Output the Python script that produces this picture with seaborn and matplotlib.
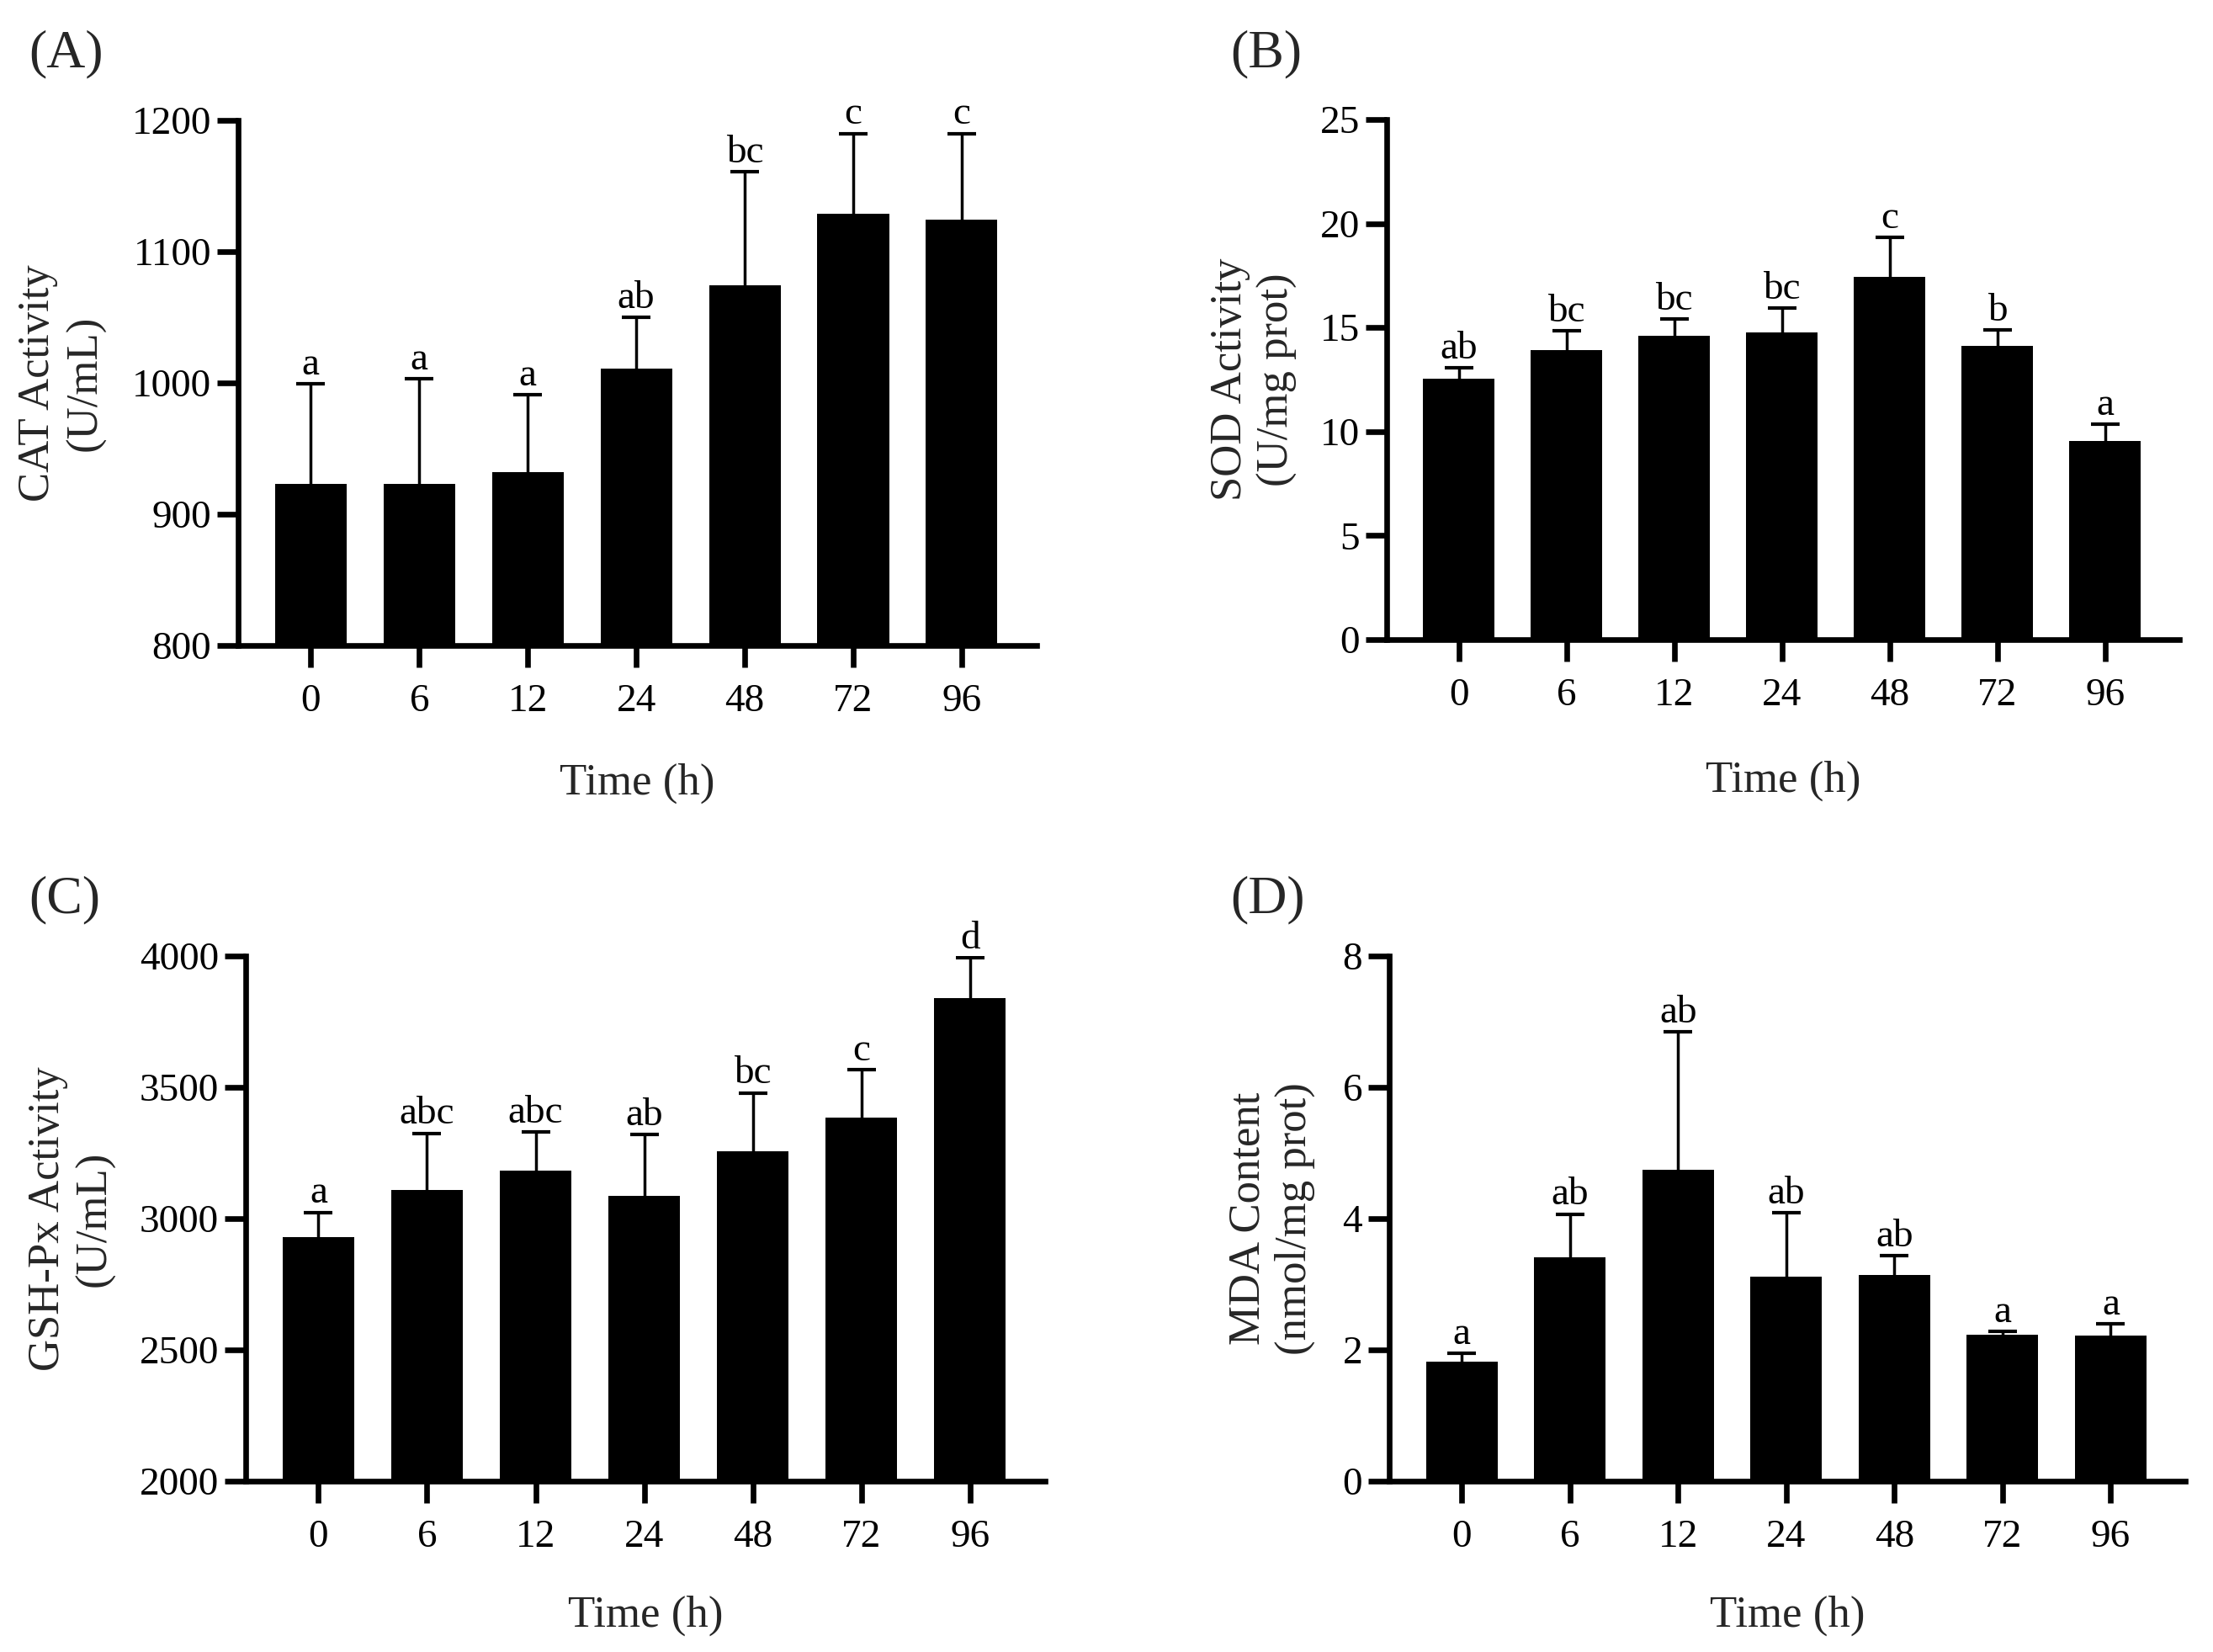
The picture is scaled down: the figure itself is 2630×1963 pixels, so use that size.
import matplotlib
matplotlib.use("Agg")
import matplotlib.pyplot as plt
import seaborn as sns
import pandas as pd
import numpy as np

# ---------------- data ----------------
times = ["0", "6", "12", "24", "48", "72", "96"]

cat_mean = [923, 923, 932, 1011, 1074, 1129, 1124]
cat_err_top = [999, 1003, 991, 1050, 1161, 1190, 1190]
cat_letters = ["a", "a", "a", "ab", "bc", "c", "c"]

sod_mean = [12.55, 13.9, 14.6, 14.75, 17.45, 14.1, 9.55]
sod_err_top = [13.05, 14.85, 15.4, 15.95, 19.35, 14.9, 10.35]
sod_letters = ["ab", "bc", "bc", "bc", "c", "b", "a"]

gsh_mean = [2931, 3109, 3182, 3087, 3257, 3384, 3840]
gsh_err_top = [3024, 3325, 3331, 3321, 3479, 3566, 3992]
gsh_letters = ["a", "abc", "abc", "ab", "bc", "c", "d"]

mda_mean = [1.82, 3.41, 4.74, 3.12, 3.14, 2.23, 2.22]
mda_err_top = [1.95, 4.07, 6.84, 4.09, 3.44, 2.28, 2.40]
mda_letters = ["a", "ab", "ab", "ab", "ab", "a", "a"]

panels = [
    dict(tag="(A)", mean=cat_mean, top=cat_err_top, letters=cat_letters,
         ylabel="CAT Activity\n(U/mL)", ylim=(800, 1200), yticks=[800, 900, 1000, 1100, 1200],
         rect=[0.1076, 0.6093, 0.3608, 0.3179], ylabx=-0.221, xlaby=-0.262, tagpos=(0.013, 0.967)),
    dict(tag="(B)", mean=sod_mean, top=sod_err_top, letters=sod_letters,
         ylabel="SOD Activity\n(U/mg prot)", ylim=(0, 25), yticks=[0, 5, 10, 15, 20, 25],
         rect=[0.6266, 0.6128, 0.3582, 0.3149], ylabx=-0.168, xlaby=-0.272, tagpos=(0.556, 0.967)),
    dict(tag="(C)", mean=gsh_mean, top=gsh_err_top, letters=gsh_letters,
         ylabel="GSH-Px Activity\n(U/mL)", ylim=(2000, 4000), yticks=[2000, 2500, 3000, 3500, 4000],
         rect=[0.1110, 0.1034, 0.3612, 0.3179], ylabx=-0.218, xlaby=-0.256, tagpos=(0.013, 0.455)),
    dict(tag="(D)", mean=mda_mean, top=mda_err_top, letters=mda_letters,
         ylabel="MDA Content\n(nmol/mg prot)", ylim=(0, 8), yticks=[0, 2, 4, 6, 8],
         rect=[0.6278, 0.1034, 0.3597, 0.3179], ylabx=-0.148, xlaby=-0.256, tagpos=(0.556, 0.455)),
]

sns.set_theme(style="ticks")
plt.rcParams["font.family"] = ["Liberation Serif", "DejaVu Serif"]

fig = plt.figure(figsize=(26.3, 19.63), dpi=100)

for p in panels:
    ax = fig.add_axes(p["rect"])
    df = pd.DataFrame({"Time": times, "Value": p["mean"]})
    sns.barplot(data=df, x="Time", y="Value", order=times, color="black",
                saturation=1, width=0.66, errorbar=None, ax=ax, linewidth=0)
    x = np.arange(len(times))
    mean = np.array(p["mean"])
    upper = np.array(p["top"]) - mean
    eb = ax.errorbar(x, mean, yerr=[np.zeros_like(upper), upper], fmt="none",
                     ecolor="black", elinewidth=2.5, capsize=12, capthick=3, zorder=3)
    caplines = eb[1]
    if len(caplines) == 2:
        caplines[0].set_visible(False)
    for xi, t, lab in zip(x, p["top"], p["letters"]):
        ax.annotate(lab, xy=(xi, t), xytext=(0, 8), textcoords="offset points",
                    ha="center", va="baseline", fontsize=34, color="black",
                    annotation_clip=False)
    ax.set_ylim(*p["ylim"])
    ax.set_yticks(p["yticks"])
    ax.set_xlim(-0.67, 6.69)
    sns.despine(ax=ax)
    for s in ["left", "bottom"]:
        ax.spines[s].set_linewidth(4.8)
        ax.spines[s].set_color("black")
    ax.tick_params(axis="y", direction="out", length=18, width=4.8, labelsize=34, pad=5, colors="black")
    ax.tick_params(axis="x", direction="out", length=19, width=4.8, labelsize=34, pad=14, colors="black")
    ax.set_xlabel("Time (h)", fontsize=38)
    ax.xaxis.set_label_coords(0.5, p["xlaby"])
    ax.xaxis.label.set_va("center")
    ax.set_ylabel(p["ylabel"], fontsize=38, multialignment="center")
    ax.yaxis.label.set_va("center")
    ax.yaxis.set_label_coords(p["ylabx"], 0.5)
    ax.set_facecolor("white")
    fig.text(p["tagpos"][0], p["tagpos"][1], p["tag"], fontsize=46, ha="left", va="center")

fig.savefig("out.png", dpi=100, facecolor="white")
